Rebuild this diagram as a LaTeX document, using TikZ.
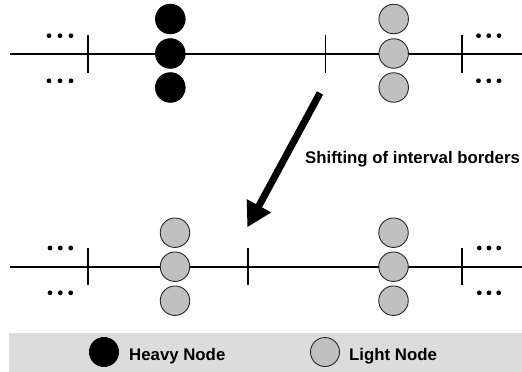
\documentclass[tikz,border=0pt]{standalone}
\usepackage{fontspec}
\setmainfont{Liberation Sans}
\usetikzlibrary{arrows.meta}
\definecolor{lightnode}{HTML}{C0C0C0}
\definecolor{legendbg}{HTML}{DCDCDC}
\tikzset{
  heavy/.style={circle, draw=black, fill=black, line width=1pt, minimum size=29.5pt, inner sep=0pt},
  light/.style={circle, draw=black!85, fill=lightnode, line width=0.9pt, minimum size=29.5pt, inner sep=0pt},
  axis/.style={line width=2pt},
  border/.style={line width=1.6pt},
  dotmark/.style={circle, fill=black, inner sep=0pt, minimum size=4.8pt},
  lbl/.style={font=\fontsize{16.8}{20}\selectfont\bfseries, inner sep=0pt, anchor=base west},
  shiftarrow/.style={line width=7pt, -{Triangle[length=24.5pt, width=26pt]}}
}
\begin{document}
\begin{tikzpicture}[x=1pt,y=-1pt]
\useasboundingbox (0,0) rectangle (522,372);
% ---------- top row ----------
\coordinate (tl) at (10,54);
\coordinate (tr) at (522,54);
\draw[axis] (tl) -- (tr);
\coordinate (tb1a) at (87.7,35); \coordinate (tb1b) at (87.7,73.3);
\coordinate (tb2a) at (325.3,35); \coordinate (tb2b) at (325.3,73.3);
\coordinate (tb3a) at (462,35); \coordinate (tb3b) at (462,73.3);
\draw[border] (tb1a) -- (tb1b);
\draw[border] (tb2a) -- (tb2b);
\draw[border] (tb3a) -- (tb3b);
\node[heavy] (h1) at (170.3,19) {};
\node[heavy] (h2) at (170.3,53.5) {};
\node[heavy] (h3) at (170.3,87.5) {};
\node[light] (l1) at (393.7,19) {};
\node[light] (l2) at (393.7,53.5) {};
\node[light] (l3) at (393.7,87.5) {};
\foreach \x/\n in {49/a,60/b,71/c,478.5/d,488.8/e,499/f}{
  \node[dotmark] (td\n) at (\x,35.7) {};
  \node[dotmark] (bd\n) at (\x,80.8) {};
}
% ---------- arrow ----------
\coordinate (as) at (320,93);
\coordinate (ae) at (247.3,227.3);
\draw[shiftarrow] (as) -- (ae);
\node[lbl] (shiftlbl) at (305,163.3) {Shifting of interval borders};
% ---------- bottom row ----------
\coordinate (bl) at (10,266.7);
\coordinate (br) at (522,266.7);
\draw[axis] (bl) -- (br);
\coordinate (bb1a) at (87.7,247.7); \coordinate (bb1b) at (87.7,285);
\coordinate (bb2a) at (247.7,247.7); \coordinate (bb2b) at (247.7,285);
\coordinate (bb3a) at (462,247.7); \coordinate (bb3b) at (462,285);
\draw[border] (bb1a) -- (bb1b);
\draw[border] (bb2a) -- (bb2b);
\draw[border] (bb3a) -- (bb3b);
\node[light] (m1) at (175,232.7) {};
\node[light] (m2) at (175,266.7) {};
\node[light] (m3) at (175,300.7) {};
\node[light] (n1) at (393.5,232.7) {};
\node[light] (n2) at (393.5,266.7) {};
\node[light] (n3) at (393.5,300.7) {};
\foreach \x/\n in {50/a,60.3/b,70.7/c,479.3/d,489/e,498.7/f}{
  \node[dotmark] (ud\n) at (\x,248) {};
  \node[dotmark] (vd\n) at (\x,292.8) {};
}
% ---------- legend ----------
\fill[legendbg] (9,332.7) rectangle (522,372);
\node[heavy, minimum size=29pt] (legh) at (104,352) {};
\node[lbl] (leght) at (129,360) {Heavy Node};
\node[light, minimum size=29pt] (legl) at (325,352) {};
\node[lbl] (leglt) at (349,360) {Light Node};
\end{tikzpicture}
\end{document}
